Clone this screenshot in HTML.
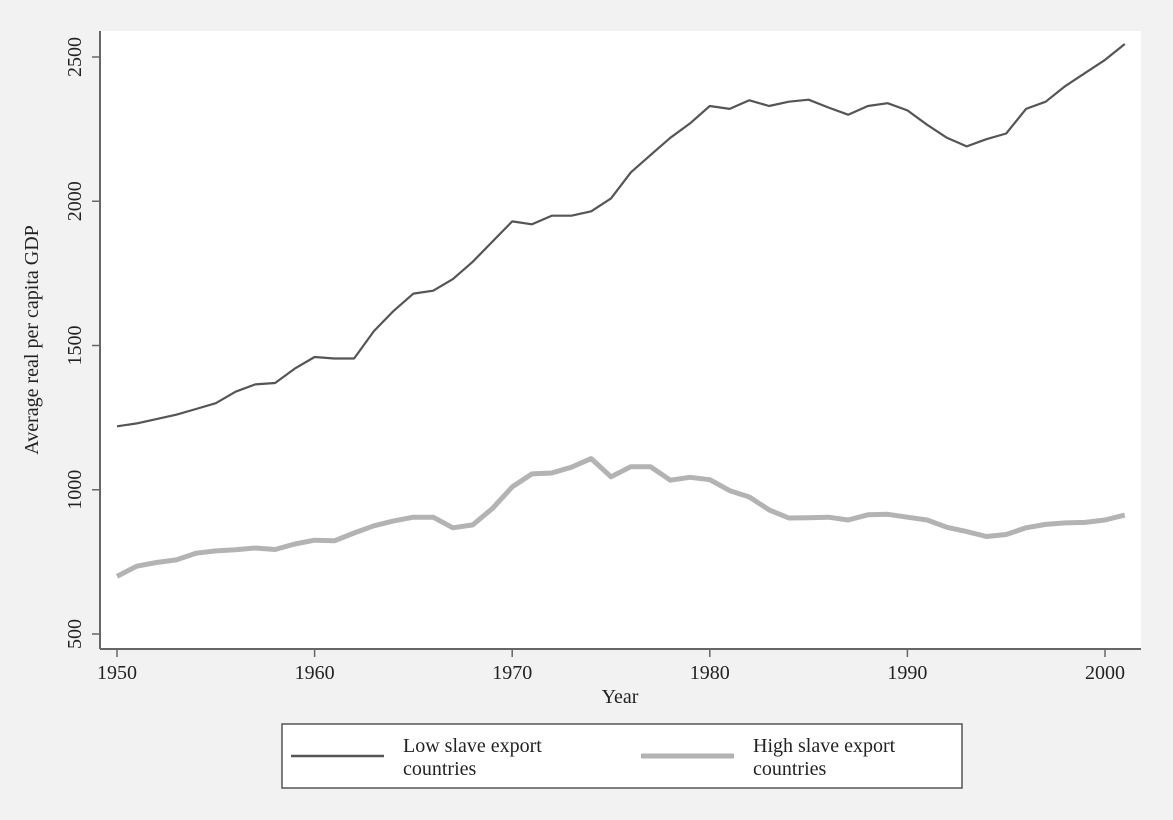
<!DOCTYPE html>
<html><head><meta charset="utf-8"><style>
html,body{margin:0;padding:0;background:#f2f2f2;}
svg{display:block;font-family:"Liberation Serif",serif;}
</style></head><body>
<svg id="s" width="1173" height="820" xmlns="http://www.w3.org/2000/svg">
<rect width="1173" height="820" fill="#f2f2f2"/>
<rect x="100" y="31" width="1041" height="618" fill="#ffffff"/>
<g stroke="#666" stroke-width="2" fill="none">
<line x1="100" y1="31" x2="100" y2="649"/>
<line x1="100" y1="649" x2="1141" y2="649"/>
</g>
<g id="ticks" stroke="#666" stroke-width="1.5"></g>
<g id="labels" fill="#222" font-size="20"></g>
<text x="620" y="703" font-size="20" fill="#222" text-anchor="middle">Year</text>
<text transform="translate(38,340) rotate(-90)" font-size="20" fill="#222" text-anchor="middle">Average real per capita GDP</text>
<polyline id="low" fill="none" stroke="#555" stroke-width="2.2" stroke-linejoin="round"/>
<polyline id="high" fill="none" stroke="#b3b3b3" stroke-width="5" stroke-linejoin="round"/>
<rect x="282" y="724" width="680" height="64" fill="#fff" stroke="#555" stroke-width="1.5"/>
<line x1="291" y1="756" x2="384" y2="756" stroke="#555" stroke-width="2.5"/>
<line x1="641" y1="756" x2="734" y2="756" stroke="#b3b3b3" stroke-width="5"/>
<g font-size="20" fill="#222">
<text x="403" y="752">Low slave export</text>
<text x="403" y="775">countries</text>
<text x="753" y="752">High slave export</text>
<text x="753" y="775">countries</text>
</g>
</svg>
<script>
var low=[1220,1230,1245,1260,1280,1300,1340,1365,1370,1420,1460,1455,1455,1550,1620,1680,1690,1730,1790,1860,1930,1920,1950,1950,1965,2010,2100,2160,2220,2270,2330,2320,2350,2330,2345,2352,2325,2300,2330,2340,2315,2265,2220,2190,2215,2235,2320,2345,2400,2445,2490,2545];
var high=[700,735,748,757,780,788,792,798,793,812,825,823,850,875,892,905,905,868,878,935,1010,1055,1058,1078,1108,1045,1080,1080,1033,1043,1035,997,975,930,902,903,905,895,913,915,905,895,870,855,838,845,868,880,885,887,895,912];
function X(y){return 117+(y-1950)*19.76;}
function Y(v){return 634-(v-500)*0.2885;}
function pts(a){return a.map(function(v,i){return X(1950+i).toFixed(1)+","+Y(v).toFixed(1);}).join(" ");}
document.getElementById("low").setAttribute("points",pts(low));
document.getElementById("high").setAttribute("points",pts(high));
var ns="http://www.w3.org/2000/svg",t=document.getElementById("ticks"),l=document.getElementById("labels");
[500,1000,1500,2000,2500].forEach(function(v){
 var ln=document.createElementNS(ns,"line");ln.setAttribute("x1",92);ln.setAttribute("x2",100);ln.setAttribute("y1",Y(v));ln.setAttribute("y2",Y(v));t.appendChild(ln);
 var tx=document.createElementNS(ns,"text");tx.setAttribute("transform","translate(81,"+Y(v)+") rotate(-90)");tx.setAttribute("text-anchor","middle");tx.textContent=v;l.appendChild(tx);
});
[1950,1960,1970,1980,1990,2000].forEach(function(y){
 var ln=document.createElementNS(ns,"line");ln.setAttribute("x1",X(y));ln.setAttribute("x2",X(y));ln.setAttribute("y1",649);ln.setAttribute("y2",657);t.appendChild(ln);
 var tx=document.createElementNS(ns,"text");tx.setAttribute("x",X(y));tx.setAttribute("y",679);tx.setAttribute("text-anchor","middle");tx.textContent=y;l.appendChild(tx);
});
</script>
</body></html>
